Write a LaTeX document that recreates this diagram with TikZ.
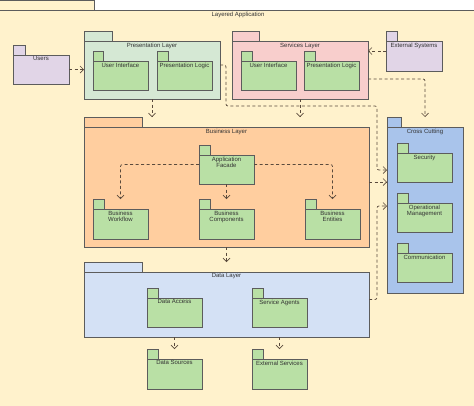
\documentclass[tikz,border=0pt]{standalone}
\usepackage{fontspec}
\setmainfont{Liberation Sans}
\usepackage{tikz}
\usetikzlibrary{shapes,arrows.meta}
\usetikzlibrary{calc}

\definecolor{appc}{HTML}{FFF2CC}
\definecolor{presc}{HTML}{D5E8D4}
\definecolor{innerc}{HTML}{B9E0A5}
\definecolor{servc}{HTML}{F8CECC}
\definecolor{userc}{HTML}{E1D5E7}
\definecolor{busc}{HTML}{FFCE9F}
\definecolor{datac}{HTML}{D4E1F5}
\definecolor{crossc}{HTML}{A9C4EB}
\definecolor{linec}{HTML}{5C5C5C}
\definecolor{depc}{HTML}{5A4A3C}
\definecolor{textc}{HTML}{333333}

% package: [tab width]{name}{x,y of body}{width}{height}{fill}{label}
\newcommand{\pkg}[7][11]{%
	\node[pkgbox,fill=#6,minimum width=#4,minimum height=#5] (#2) at (#3) {};
	\node[pkgtab,fill=#6,minimum width=#1] (#2tab) at (#2.north west) {};
	\node[pkglbl] (#2lbl) at (#2.north) {#7};
}

\begin{document}
\begin{tikzpicture}[x=1pt,y=-1pt,
	pkgbox/.style={draw=linec,line width=1pt,anchor=north west,inner sep=0pt,outer sep=0pt},
	pkgtab/.style={draw=linec,line width=1pt,anchor=south west,minimum height=10,inner sep=0pt,outer sep=0pt},
	pkglbl/.style={anchor=north,inner sep=1.5pt,align=center,font=\fontsize{6}{6.8}\selectfont,text=textc},
	dep/.style={draw=depc,line width=0.7pt,dash pattern=on 3pt off 2.5pt,rounded corners=2pt,
		-{Straight Barb[length=3.5pt,width=7pt]}}]
	\useasboundingbox (0,0) rectangle (474,405);
	
	% outer package
	\pkg[95]{app}{-1,10}{478}{400}{appc}{Layered Application}
	
	\pkg[12]{users}{13,55}{56}{29}{userc}{Users}
	\pkg{ext}{386,41}{56}{30}{userc}{External Systems}
	
	\pkg[28]{pres}{84,41}{136}{58}{presc}{Presentation Layer}
	\pkg[10]{presui}{93,61}{55}{29}{innerc}{User Interface}
	\pkg{preslogic}{157,61}{55}{29}{innerc}{Presentation Logic}
	
	\pkg[27]{serv}{232,41}{136}{58}{servc}{Services Layer}
	\pkg{servui}{241,61}{55}{29}{innerc}{User Interface}
	\pkg{servlogic}{304,61}{55}{29}{innerc}{Presentation Logic}
	
	\pkg[58]{bus}{84,127}{285}{120}{busc}{Business Layer}
	\pkg{facade}{199,155}{55}{29}{innerc}{Application\\Facade}
	\pkg{wf}{93,209}{55}{30}{innerc}{Business\\Workflow}
	\pkg{comp}{199,209}{55}{30}{innerc}{Business\\Components}
	\pkg{ent}{305,209}{55}{30}{innerc}{Business\\Entities}
	
	\pkg[58]{data}{84,272}{285}{65}{datac}{Data Layer}
	\pkg{dacc}{147,298}{55}{29}{innerc}{Data Access}
	\pkg{sag}{252,298}{55}{29}{innerc}{Service Agents}
	\pkg{dsrc}{147,359}{55}{30}{innerc}{Data Sources}
	\pkg{exts}{252,359}{55}{30}{innerc}{External Services}
	
	\pkg[14]{cross}{387,127}{76}{166}{crossc}{Cross Cutting}
	\pkg{sec}{397,153}{55}{29}{innerc}{Security}
	\pkg{ops}{397,203}{55}{29}{innerc}{Operational\\Management}
	\pkg{comm}{397,253}{55}{29}{innerc}{Communication}
	
	% dependencies
	\draw[dep] (users.east) -- (users.east -| pres.west);
	\draw[dep] ([yshift=5pt]ext.west) -- ([yshift=5pt]ext.west -| serv.east);
	\draw[dep] (pres.south) -- (pres.south |- bustab.north);
	\draw[dep] (serv.south) -- (serv.south |- bustab.north);
	\draw[dep] ([yshift=-9pt]serv.east) -| (cross.north |- crosstab.north);
	\draw[dep] ([yshift=5pt]pres.east) -- ++(6,0) |- (377,106) |- ([yshift=40pt]cross.west);
	\draw[dep] ([yshift=5pt]bus.east) -- ([yshift=5pt]bus.east -| cross.west);
	\draw[dep] ([yshift=5pt]data.east) -| ([xshift=-10pt,yshift=4pt]cross.west) -- ([yshift=4pt]cross.west);
	
	\draw[dep] ([yshift=5pt]facade.west) -| (wf.north |- wftab.north);
	\draw[dep] ([yshift=5pt]facade.east) -| (ent.north |- enttab.north);
	\draw[dep] (facade.south) -- (facade.south |- comptab.north);
	\draw[dep] (bus.south) -- (bus.south |- datatab.north);
	\draw[dep] (dsrc.north |- data.south) -- (dsrc.north |- dsrctab.north);
	\draw[dep] (exts.north |- data.south) -- (exts.north |- extstab.north);
\end{tikzpicture}
\end{document}
